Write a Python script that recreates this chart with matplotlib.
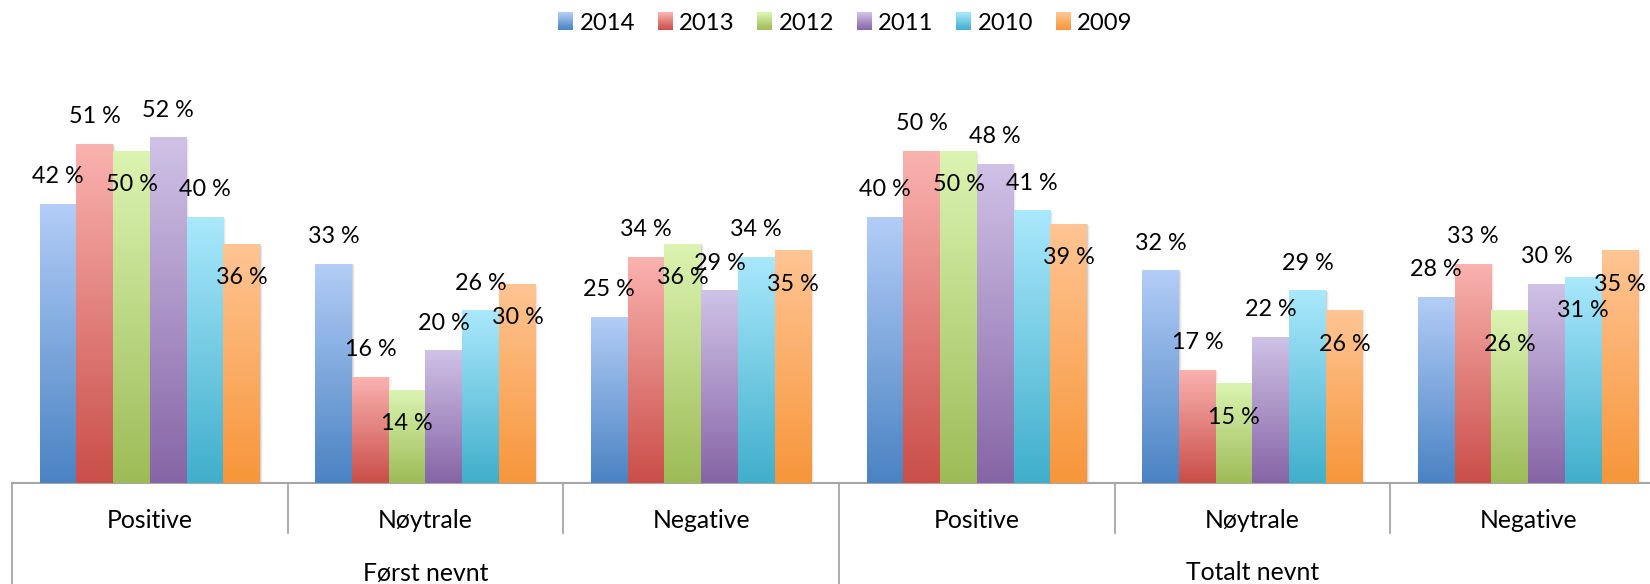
import numpy as np
import matplotlib
matplotlib.use("Agg")
import matplotlib.pyplot as plt
import matplotlib.transforms as mtransforms
from matplotlib.colors import to_rgb
from matplotlib.patches import Rectangle
from matplotlib.legend_handler import HandlerBase

plt.rcParams['font.family'] = ['Lato', 'DejaVu Sans']

# ---------------- data ----------------
groups = ["Positive", "Nøytrale", "Negative", "Positive", "Nøytrale", "Negative"]
supergroups = ["Først nevnt", "Totalt nevnt"]
years = ["2014", "2013", "2012", "2011", "2010", "2009"]
v2014 = [42, 33, 25, 40, 32, 28]
v2013 = [51, 16, 34, 50, 17, 33]
v2012 = [50, 14, 36, 50, 15, 26]
v2011 = [52, 20, 29, 48, 22, 30]
v2010 = [40, 26, 34, 41, 29, 31]
v2009 = [36, 30, 35, 39, 26, 35]
series = [v2014, v2013, v2012, v2011, v2010, v2009]

# label placement (True = inside bar below the top)
label_inside = [
    [False] * 6,
    [False] * 6,
    [True] * 6,
    [False] * 6,
    [False, False, False, False, False, True],
    [True] * 6,
]

# ---------------- style ----------------
tops = ["#B3CDF7", "#FAB3B0", "#DCF4B2", "#D0C2E7", "#AAE8FC", "#FFC594"]
bottoms = ["#4A83C3", "#CA4E49", "#9DBC57", "#8665A6", "#40AFCB", "#F7963A"]
FS_LAB = 16.8
FS_CAT = 17.8
FS_LEG = 17.2
AXIS_GRAY = "#A6A6A6"

W, H = 1650, 584
fig = plt.figure(figsize=(W / 100, H / 100), dpi=100)
ax_l, ax_b, ax_w, ax_h = 12, 101, 1654, 399
ax = fig.add_axes([ax_l / W, ax_b / H, ax_w / W, ax_h / H])
ax.set_xlim(-0.5, len(groups) - 0.5)
ax.set_ylim(0, 60)

bw = 1 / 7.5
x = np.arange(len(groups))


def grad(top, bot, n=128):
    t = np.linspace(0, 1, n)[:, None, None]
    a = np.array(to_rgb(top))[None, None, :]
    b = np.array(to_rgb(bot))[None, None, :]
    return a * (1 - t) + b * t


for j, vals in enumerate(series):
    xs = x + (j - (len(series) - 1) / 2) * bw
    bars = ax.bar(xs, vals, width=bw, color=bottoms[j], linewidth=0, zorder=2)
    g = grad(tops[j], bottoms[j])
    for i, p in enumerate(bars.patches):
        x0 = p.get_x()
        x1 = x0 + p.get_width()
        h = p.get_height()
        # soft shadow
        for k, a in enumerate([0.10, 0.06, 0.03]):
            sh = Rectangle((x1 - 0.002, 0), (k + 1) * 0.004, h * (1 - 0.004 * k),
                           facecolor="black", alpha=a, linewidth=0, zorder=1)
            ax.add_patch(sh)
        im = ax.imshow(g, extent=[x0, x1, 0, h], origin="upper", aspect="auto",
                       interpolation="bilinear", zorder=3)
        im.set_clip_path(p)
        off = -34 if label_inside[j][i] else 27
        ax.annotate(f"{vals[i]} %", xy=(xs[i], vals[i]), xytext=(0, off),
                    textcoords="offset pixels", ha="center", va="center",
                    fontsize=FS_LAB, color="black", zorder=6)

ax.set_xlim(-0.5, len(groups) - 0.5)
ax.set_ylim(0, 60)
ax.set_xticks([])
ax.set_yticks([])
for s in ["top", "left", "right"]:
    ax.spines[s].set_visible(False)
ax.spines["bottom"].set_color(AXIS_GRAY)
ax.spines["bottom"].set_linewidth(1.5)
ax.patch.set_alpha(0)

# multi-level category axis
trans = mtransforms.blended_transform_factory(ax.transData, ax.transAxes)
px = 1 / ax_h
for xb in [0.5, 1.5, 3.5, 4.5]:
    ax.plot([xb, xb], [0, -50 * px], transform=trans, color=AXIS_GRAY, lw=1.3, clip_on=False)
for xb in [-0.5, 2.5, 5.5]:
    ax.plot([xb, xb], [0, -110 * px], transform=trans, color=AXIS_GRAY, lw=1.3, clip_on=False)
for i, g_ in enumerate(groups):
    ax.text(i, -37 * px, g_, transform=trans, ha="center", va="center", fontsize=FS_CAT)
for k, sg in enumerate(supergroups):
    ax.text(1 + 3 * k, -90 * px, sg, transform=trans, ha="center", va="center", fontsize=FS_CAT)


# legend with gradient swatches
class Swatch:
    def __init__(self, top, bot):
        self.top, self.bot = top, bot


class GradHandler(HandlerBase):
    def create_artists(self, legend, orig, xdescent, ydescent, width, height, fontsize, trans):
        n = 16
        arts = []
        a = np.array(to_rgb(orig.top))
        b = np.array(to_rgb(orig.bot))
        for k in range(n):
            t = (k + 0.5) / n
            c = a * t + b * (1 - t)
            r = Rectangle((-xdescent, -ydescent + height * k / n), width, height / n + 0.3,
                          facecolor=c, linewidth=0, transform=trans)
            arts.append(r)
        return arts


handles = [Swatch(t, b) for t, b in zip(tops, bottoms)]
fig.legend(handles, years, handler_map={Swatch: GradHandler()}, ncol=6,
           loc="center", bbox_to_anchor=(845.5 / W, 1 - 23 / H), frameon=False,
           fontsize=FS_LEG, handlelength=0.62, handleheight=0.72, handletextpad=0.27,
           columnspacing=0.95, borderpad=0, borderaxespad=0)

fig.savefig("out.png", dpi=100)
